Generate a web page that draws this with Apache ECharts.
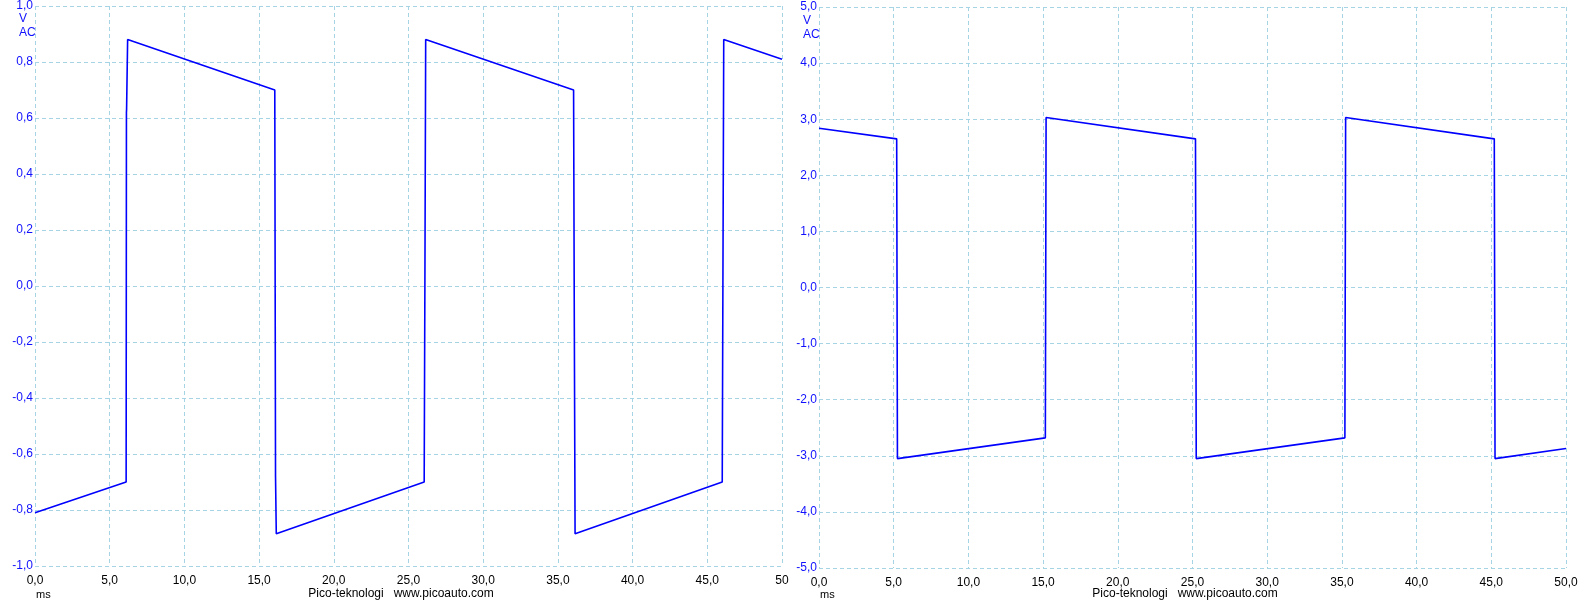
<!DOCTYPE html>
<html>
<head>
<meta charset="utf-8">
<script src="https://cdn.jsdelivr.net/npm/echarts@6/dist/echarts.min.js"></script>
<style>html,body{margin:0;padding:0;background:#fff;}#c{width:1587px;height:600px;}</style>
</head>
<body>
<div id="c"></div>
<script>
// Left channel (V AC, -1..1)
const leftTimes  = [0.0, 6.1, 6.12, 6.13, 6.2, 16.05, 16.1, 16.15, 26.05, 26.1, 26.15, 36.05, 36.1, 36.15, 46.0, 46.1, 50.0];
const leftValues = [-0.81, -0.70, 0.62, 0.63, 0.88, 0.70, -0.68, -0.885, -0.70, 0.05, 0.88, 0.70, -0.15, -0.885, -0.70, 0.88, 0.81];
// Right channel (V AC, -5..5)
const rightTimes  = [0.0, 5.2, 5.25, 15.15, 15.2, 25.2, 25.25, 35.2, 35.25, 45.2, 45.25, 50.0];
const rightValues = [2.84, 2.65, -3.05, -2.68, 3.03, 2.65, -3.05, -2.68, 3.03, 2.65, -3.05, -2.87];
const xTickLabels = ['0,0','5,0','10,0','15,0','20,0','25,0','30,0','35,0','40,0','45,0','50,0'];
const footerText = 'Pico-teknologi   www.picoauto.com';
const unitLines = ['V', 'AC'];

const zip = (a, b) => a.map((t, i) => [t, b[i]]);
const fmtY = v => v.toFixed(1).replace('.', ',');

const grids = [
  {left: 35, top: 5, width: 747, height: 561},
  {left: 819, top: 7, width: 747, height: 561}
];

const gridLine = {show: true, lineStyle: {color: '#a6d4e4', type: [4, 3], width: 1}};
const font = 'Liberation Sans, Arial, sans-serif';

function xAxis(idx, lastShort) {
  return {
    type: 'value', gridIndex: idx, min: 0, max: 50, interval: 5,
    axisLine: {show: false}, axisTick: {show: false},
    splitLine: gridLine,
    axisLabel: {
      color: '#000', fontFamily: font, fontSize: 12, margin: 9,
      formatter: v => {
        const i = Math.round(v / 5);
        if (lastShort && i === 10) return '50';
        return xTickLabels[i];
      }
    }
  };
}
function yAxis(idx, lim, step) {
  return {
    type: 'value', gridIndex: idx, min: -lim, max: lim, interval: step,
    axisLine: {show: false}, axisTick: {show: false},
    splitLine: gridLine,
    axisLabel: {color: '#1010ff', fontFamily: font, fontSize: 12, margin: 2, formatter: fmtY}
  };
}

const chart = echarts.init(document.getElementById('c'), null, {renderer: 'canvas'});
chart.setOption({
  animation: false,
  backgroundColor: '#fff',
  grid: grids,
  xAxis: [xAxis(0, true), xAxis(1, false)],
  yAxis: [yAxis(0, 1.0, 0.2), yAxis(1, 5.0, 1.0)],
  series: [
    {type: 'line', xAxisIndex: 0, yAxisIndex: 0, data: zip(leftTimes, leftValues), showSymbol: false,
     lineStyle: {color: '#0000ff', width: 1.6}},
    {type: 'line', xAxisIndex: 1, yAxisIndex: 1, data: zip(rightTimes, rightValues), showSymbol: false,
     lineStyle: {color: '#0000ff', width: 1.6}}
  ],
  graphic: [
    {type: 'text', left: 19, top: 12, style: {text: unitLines.join('\n'), fill: '#1010ff', font: '12px ' + font, lineHeight: 14}},
    {type: 'text', left: 803, top: 14, style: {text: unitLines.join('\n'), fill: '#1010ff', font: '12px ' + font, lineHeight: 14}},
    {type: 'text', left: 36, top: 589, style: {text: 'ms', fill: '#000', font: '11px ' + font}},
    {type: 'text', left: 820, top: 589, style: {text: 'ms', fill: '#000', font: '11px ' + font}},
    {type: 'text', x: 401, y: 588, style: {text: footerText, fill: '#000', font: '12px ' + font, textAlign: 'center'}},
    {type: 'text', x: 1185, y: 588, style: {text: footerText, fill: '#000', font: '12px ' + font, textAlign: 'center'}}
  ]
});
</script>
</body>
</html>
